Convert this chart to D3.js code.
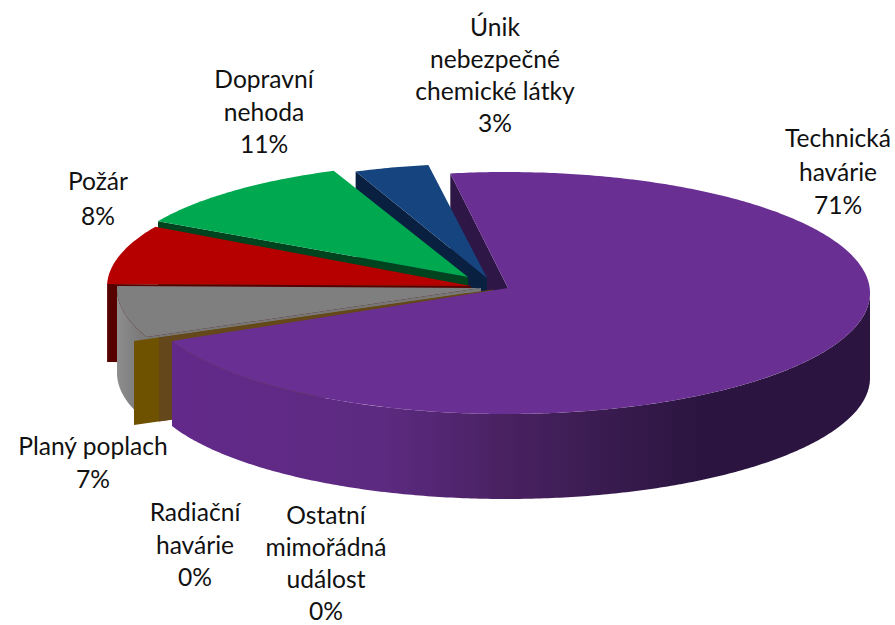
<!DOCTYPE html>
<html><head><meta charset="utf-8">
<script src="https://cdn.jsdelivr.net/npm/d3@7"></script>
<style>html,body{margin:0;background:#fff}svg{display:block}text{font-family:Lato,"Open Sans",sans-serif;font-size:24.6px;fill:#111}</style>
</head><body><div id="c"></div>
<script>
const categories = ["Technická havárie","Radiační havárie","Ostatní mimořádná událost","Planý poplach","Požár","Dopravní nehoda","Únik nebezpečné chemické látky"];
const values = [70.9,0,0,6.9,7.9,10.76,3.49];
const colours = ["#6a2f92","#6e5200","#64471a","#7f7f7f","#b60000","#00a850","#15447f"];
const wallColours = ["#2e1646","#6e5200","#64471a","#777777","#560000","#00431f","#0a2040"];
const labelLines = [["Technická","havárie"],["Radiační","havárie"],["Ostatní","mimořádná","událost"],["Planý poplach"],["Požár"],["Dopravní","nehoda"],["Únik","nebezpečné","chemické látky"]];

// layout only
const W=895,H=625,rx=364,ry=121,startDeg=-8.8;
const depth=[85,84,84,84,78,84,84];
const rimOrigin=[[506,293],[468,293],[493,289.5],[481,289],[471,287],[461,279],[481,278]];
const apex=[[508,288],[468,293],[493,289.5],[481,288],[471,286],[468,277],[487,278]];
const rScale=[1,1,1,1,1,.96,.945];
const labelPos=[[838,147],[195,521],[326,524],[93,455],[98,190],[264,88],[495,36]];
const labelStep=[33.5,32.5,32,33,35,32.5,32];
const paint=[0,6,5,4,3,1,2,0];

const svg=d3.select("#c").append("svg").attr("width",W).attr("height",H);
const arcs=d3.pie().sort(null).startAngle(startDeg*Math.PI/180).endAngle((startDeg+360)*Math.PI/180)(values);
const defs=svg.append("defs");
const grad=defs.append("linearGradient").attr("id","pw").attr("gradientUnits","userSpaceOnUse").attr("x1",174).attr("x2",700).attr("y1",0).attr("y2",0);
[[0,"#63298a"],[.4,"#5c2a80"],[.65,"#47215f"],[1,"#2b1540"]].forEach(s=>grad.append("stop").attr("offset",s[0]).attr("stop-color",s[1]));
const grayGrad=defs.append("linearGradient").attr("id","gw").attr("gradientUnits","userSpaceOnUse").attr("x1",117).attr("x2",140).attr("y1",0).attr("y2",0);
[[0,"#8e8e8e"],[1,"#7a7a7a"]].forEach(s=>grayGrad.append("stop").attr("offset",s[0]).attr("stop-color",s[1]));

const pathLine=d3.line().x(d=>d[0]).y(d=>d[1]);
function pt(i,a,dy=0){return [rimOrigin[i][0]+rx*rScale[i]*Math.sin(a), rimOrigin[i][1]-ry*rScale[i]*Math.cos(a)+dy];}
function sweep(i,a0,a1,dy=0){const n=Math.max(2,Math.ceil(Math.abs(a1-a0)*90));return d3.range(n+1).map(k=>pt(i,a0+(a1-a0)*k/n,dy));}
const g=svg.append("g");
function startWall(i){
  const a=arcs[i].startAngle,o=pt(i,a),p=apex[i],d=depth[i];
  g.append("path").attr("d",pathLine([o,p,[p[0],p[1]+d],[o[0],o[1]+d]])+"Z").attr("fill",wallColours[i]);
}
function outerWall(i,fill){
  const a0=Math.max(arcs[i].startAngle,Math.PI/2),a1=Math.min(arcs[i].endAngle,3*Math.PI/2);
  if(a1<=a0)return;
  g.append("path").attr("d",pathLine(sweep(i,a0,a1).concat(sweep(i,a1,a0,depth[i])))+"Z").attr("fill",fill);
}
function topFace(i){
  if(arcs[i].endAngle===arcs[i].startAngle)return;
  g.append("path").attr("d",pathLine([apex[i]].concat(sweep(i,arcs[i].startAngle,arcs[i].endAngle)))+"Z").attr("fill",colours[i]);
}
paint.forEach((i,step)=>{
  if(i===0&&step===0){startWall(0);return;}
  if(i!==0)startWall(i);
  outerWall(i,i===0?"url(#pw)":i===3?"url(#gw)":wallColours[i]);
  topFace(i);
});
// labels
const total=d3.sum(values);
categories.forEach((c,i)=>{
  const t=svg.append("text").attr("text-anchor","middle");
  labelLines[i].concat([Math.round(values[i]/total*100)+"%"]).forEach((s,k)=>{
    t.append("tspan").attr("x",labelPos[i][0]).attr("y",labelPos[i][1]+k*labelStep[i]).text(s);
  });
});
</script></body></html>
